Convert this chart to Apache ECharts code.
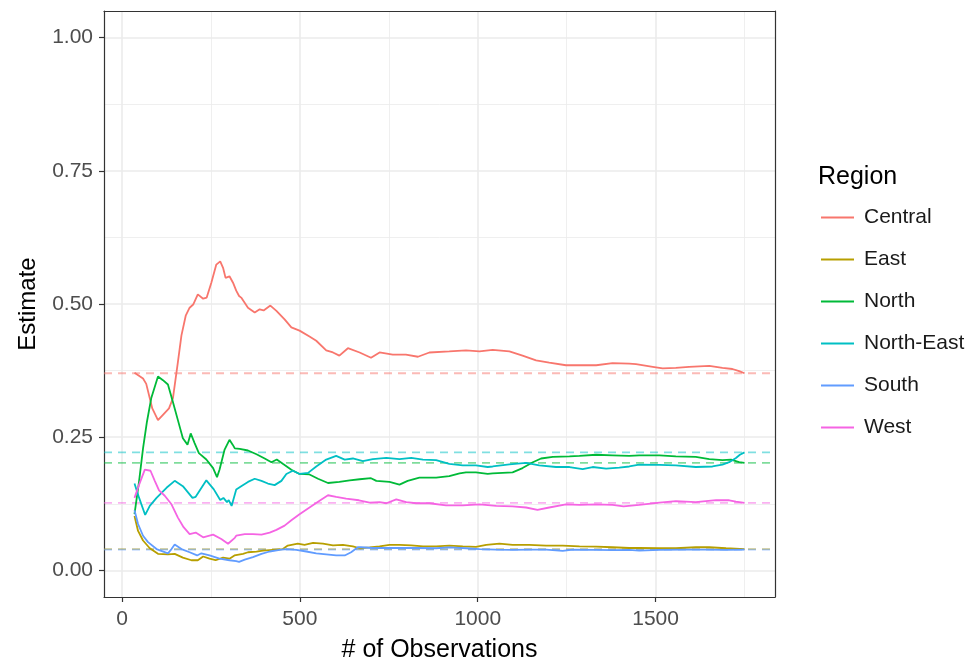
<!DOCTYPE html>
<html>
<head>
<meta charset="utf-8">
<script src="https://cdn.jsdelivr.net/npm/echarts@6/dist/echarts.min.js"></script>
<style>html,body{margin:0;padding:0;background:#fff}#c{width:969px;height:668px}</style>
</head>
<body>
<div id="c"></div>
<script>
const regions = ['Central','East','North','North-East','South','West'];
const colors = ['#F8766D','#B79F00','#00BA38','#00BFC4','#619CFF','#F564E3'];
const trueValues = [0.370, 0.040, 0.2016, 0.2215, 0.039, 0.1266];
const xTicks = [0, 500, 1000, 1500];
const xMinorTicks = [250, 750, 1250, 1750];
const yTicks = [0, 0.25, 0.5, 0.75, 1];
const yMinorTicks = [0.125, 0.375, 0.625, 0.875];

const central = [[35,.371],[59,.360],[68,.350],[85,.304],[101,.282],[115,.292],[132,.304],[143,.323],[157,.391],[167,.441],[179,.478],[190,.493],[200,.499],[213,.518],[228,.510],[238,.512],[251,.540],[265,.574],[276,.580],[284,.568],[291,.549],[302,.552],[312,.540],[321,.525],[329,.515],[335,.512],[354,.493],[373,.484],[387,.490],[398,.488],[417,.497],[434,.487],[457,.471],[476,.456],[499,.450],[527,.439],[546,.431],[574,.413],[593,.409],[611,.403],[635,.417],[668,.409],[700,.399],[724,.409],[761,.405],[798,.405],[832,.401],[864,.409],[920,.411],[967,.413],[1005,.411],[1042,.414],[1089,.411],[1126,.403],[1164,.394],[1201,.390],[1248,.385],[1286,.385],[1333,.385],[1379,.389],[1426,.388],[1445,.387],[1492,.382],[1520,.379],[1557,.380],[1594,.382],[1651,.384],[1688,.380],[1716,.378],[1735,.374],[1750,.370]];
const east = [[35,.102],[45,.074],[59,.056],[78,.0415],[101,.031],[129,.030],[148,.031],[171,.024],[195,.019],[213,.019],[228,.026],[246,.022],[263,.019],[284,.024],[302,.022],[316,.028],[340,.031],[354,.034],[378,.035],[396,.037],[424,.0385],[452,.040],[466,.0465],[494,.050],[513,.048],[537,.0515],[565,.050],[593,.047],[621,.048],[649,.045],[668,.0415],[696,.043],[724,.045],[752,.048],[780,.048],[813,.047],[846,.045],[883,.045],[920,.0465],[958,.045],[995,.044],[1024,.048],[1061,.050],[1098,.048],[1145,.048],[1192,.0465],[1239,.0465],[1286,.045],[1333,.0445],[1379,.0434],[1426,.042],[1454,.042],[1511,.0415],[1557,.0415],[1613,.0434],[1651,.0434],[1698,.0415],[1750,.040]];
const north = [[35,.1055],[48,.168],[59,.229],[70,.279],[82,.323],[101,.364],[115,.357],[129,.349],[143,.316],[157,.282],[171,.248],[184,.236],[193,.257],[204,.239],[216,.220],[237,.208],[256,.192],[267,.175],[274,.189],[288,.226],[302,.245],[311,.236],[317,.229],[331,.228],[354,.225],[378,.218],[401,.210],[420,.203],[435,.208],[452,.200],[476,.189],[499,.181],[527,.180],[551,.172],[579,.164],[611,.166],[640,.169],[668,.171],[700,.173],[715,.168],[752,.166],[780,.161],[803,.168],[836,.174],[883,.174],[920,.177],[949,.182],[967,.184],[995,.184],[1028,.181],[1042,.182],[1098,.184],[1126,.192],[1155,.203],[1178,.210],[1211,.213],[1258,.214],[1286,.215],[1333,.217],[1379,.216],[1426,.215],[1454,.216],[1511,.216],[1557,.214],[1613,.213],[1651,.209],[1688,.207],[1712,.208],[1735,.203],[1750,.2016]];
const northEast = [[35,.163],[48,.136],[65,.104],[78,.121],[97,.136],[125,.155],[148,.168],[171,.158],[198,.136],[207,.138],[237,.169],[258,.152],[276,.132],[285,.136],[295,.128],[300,.132],[308,.121],[313,.123],[321,.152],[335,.158],[354,.166],[373,.172],[392,.168],[410,.163],[429,.160],[448,.168],[462,.181],[480,.187],[499,.181],[523,.183],[546,.195],[574,.208],[602,.215],[626,.208],[649,.210],[677,.205],[705,.209],[743,.211],[780,.209],[813,.211],[846,.208],[883,.207],[920,.200],[958,.197],[995,.197],[1028,.194],[1042,.195],[1089,.199],[1136,.2016],[1173,.197],[1220,.194],[1258,.194],[1295,.190],[1323,.194],[1361,.191],[1398,.193],[1426,.195],[1454,.1985],[1511,.198],[1557,.197],[1613,.194],[1660,.195],[1688,.1985],[1707,.203],[1726,.211],[1737,.217],[1750,.2215]];
const south = [[35,.113],[45,.087],[59,.065],[73,.053],[97,.040],[129,.032],[139,.040],[148,.0484],[167,.040],[190,.034],[211,.028],[223,.032],[246,.028],[274,.022],[302,.019],[321,.0174],[329,.016],[345,.020],[368,.0248],[392,.031],[415,.0354],[443,.0385],[462,.040],[490,.0385],[518,.0354],[546,.032],[574,.030],[602,.028],[626,.028],[644,.034],[663,.0434],[672,.0434],[705,.042],[743,.042],[780,.042],[827,.042],[883,.0415],[920,.043],[967,.0415],[1005,.040],[1052,.039],[1098,.0385],[1145,.039],[1192,.039],[1239,.0366],[1267,.039],[1333,.0385],[1379,.038],[1426,.0385],[1454,.037],[1511,.0385],[1585,.039],[1641,.039],[1698,.0385],[1750,.039]];
const west = [[35,.136],[48,.161],[64,.189],[80,.187],[92,.168],[104,.150],[120,.140],[139,.124],[157,.099],[173,.081],[190,.068],[207,.071],[228,.062],[256,.067],[279,.059],[298,.050],[317,.061],[321,.065],[345,.068],[368,.068],[392,.067],[415,.071],[434,.076],[457,.084],[476,.094],[499,.1055],[527,.118],[551,.129],[579,.141],[602,.138],[630,.1346],[666,.1316],[696,.127],[724,.128],[743,.126],[771,.1334],[799,.128],[827,.126],[864,.126],[911,.122],[958,.122],[1005,.124],[1052,.121],[1098,.120],[1136,.118],[1168,.1135],[1201,.118],[1248,.124],[1286,.123],[1333,.124],[1379,.123],[1410,.120],[1454,.123],[1511,.127],[1557,.130],[1613,.128],[1670,.132],[1707,.1316],[1726,.129],[1750,.1266]];

const seriesData = [central, east, north, northEast, south, west];

// ggplot-style 5% expansion of the x data range; y limits 0..1 expanded by 5%
const allX = seriesData.flat().map(p => p[0]);
const xLo = Math.min(...allX), xHi = Math.max(...allX);
const xMin = xLo - 0.05 * (xHi - xLo), xMax = xHi + 0.05 * (xHi - xLo);
const yMin = -0.05, yMax = 1.05;

const FONT = 'Liberation Sans, Arial, sans-serif';
const borderStyle = {color: '#333333', width: 1.2};

const series = [];
regions.forEach((r, i) => {
  series.push({
    name: r + ' (true)', type: 'line', silent: true, symbol: 'none', z: 1,
    data: [[xMin, trueValues[i]], [xMax, trueValues[i]]],
    lineStyle: {color: colors[i], width: 1.8, type: [8, 6], opacity: 0.5},
    itemStyle: {color: colors[i]}
  });
});
regions.forEach((r, i) => {
  series.push({
    name: r, type: 'line', symbol: 'none', showSymbol: false, z: 3 + i,
    data: seriesData[i],
    lineStyle: {color: colors[i], width: 1.8},
    itemStyle: {color: colors[i]}
  });
});

const chart = echarts.init(document.getElementById('c'), null, {renderer: 'canvas'});
chart.setOption({
  animation: false,
  backgroundColor: '#ffffff',
  title: {text: 'Region', left: 818, top: 165, padding: 0,
    textStyle: {fontFamily: FONT, fontSize: 25, fontWeight: 'normal', color: '#000'}},
  legend: {
    data: regions, orient: 'vertical', left: 821, top: 207, padding: 0,
    icon: 'rect', itemWidth: 33, itemHeight: 2, itemGap: 21,
    textStyle: {fontFamily: FONT, fontSize: 21, color: '#1A1A1A', lineHeight: 21, padding: [0, 0, 0, 5]},
    selectedMode: false
  },
  grid: {left: 104, top: 11, width: 671, height: 591, containLabel: false},
  xAxis: [{
    type: 'value', min: xMin, max: xMax, position: 'bottom',
    axisLine: {show: true, onZero: false, lineStyle: borderStyle},
    axisTick: {show: true, length: 5, lineStyle: {color: '#333333', width: 1.2}, customValues: xTicks},
    axisLabel: {customValues: xTicks, color: '#4D4D4D', fontSize: 21, fontFamily: FONT, margin: 12,
      formatter: v => String(v)},
    splitLine: {show: true, lineStyle: {color: '#EBEBEB', width: 1.6}},
    name: '# of Observations', nameLocation: 'middle', nameGap: 41,
    nameTextStyle: {fontFamily: FONT, fontSize: 25, color: '#000'}
  }, {
    type: 'value', min: xMin, max: xMax, position: 'top',
    axisLine: {show: true, onZero: false, lineStyle: borderStyle},
    axisTick: {show: false, customValues: xMinorTicks},
    axisLabel: {show: false, customValues: xMinorTicks},
    splitLine: {show: true, lineStyle: {color: '#EBEBEB', width: 0.8}}
  }],
  yAxis: [{
    type: 'value', min: yMin, max: yMax, position: 'left',
    axisLine: {show: true, onZero: false, lineStyle: borderStyle},
    axisTick: {show: true, length: 5, lineStyle: {color: '#333333', width: 1.2}, customValues: yTicks},
    axisLabel: {customValues: yTicks, color: '#4D4D4D', fontSize: 21, fontFamily: FONT, margin: 11,
      formatter: v => v.toFixed(2)},
    splitLine: {show: true, lineStyle: {color: '#EBEBEB', width: 1.6}},
    name: 'Estimate', nameLocation: 'middle', nameGap: 64,
    nameTextStyle: {fontFamily: FONT, fontSize: 24, color: '#000'}
  }, {
    type: 'value', min: yMin, max: yMax, position: 'right',
    axisLine: {show: true, onZero: false, lineStyle: borderStyle},
    axisTick: {show: false, customValues: yMinorTicks},
    axisLabel: {show: false, customValues: yMinorTicks},
    splitLine: {show: true, lineStyle: {color: '#EBEBEB', width: 0.8}}
  }],
  series: series
});
</script>
</body>
</html>
